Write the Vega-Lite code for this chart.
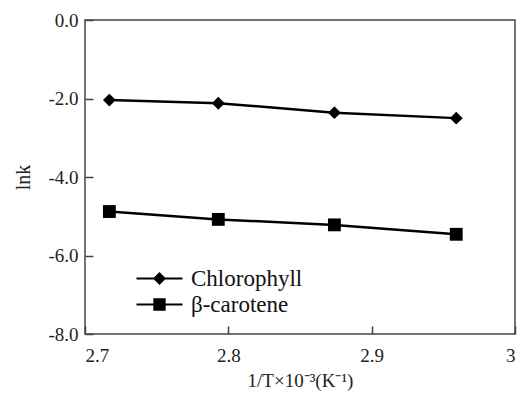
{
  "$schema": "https://vega.github.io/schema/vega-lite/v6.json",
  "width": 430,
  "height": 314,
  "autosize": "none",
  "padding": {"left": 85, "top": 20, "right": 7, "bottom": 68},
  "background": "white",
  "config": {
    "font": "Liberation Serif",
    "view": {"stroke": "#444", "strokeWidth": 1.5},
    "axis": {
      "grid": false,
      "domain": false,
      "tickColor": "#444",
      "tickWidth": 1.5,
      "tickSize": -8,
      "labelFont": "Liberation Serif",
      "labelFontSize": 19,
      "labelColor": "#222",
      "titleFont": "Liberation Serif",
      "titleFontWeight": "normal",
      "titleColor": "#222"
    }
  },
  "data": {
    "values": [
      {"x": 2.717, "y": -2.04, "series": "Chlorophyll"},
      {"x": 2.793, "y": -2.12, "series": "Chlorophyll"},
      {"x": 2.874, "y": -2.36, "series": "Chlorophyll"},
      {"x": 2.959, "y": -2.50, "series": "Chlorophyll"},
      {"x": 2.717, "y": -4.88, "series": "β-carotene"},
      {"x": 2.793, "y": -5.08, "series": "β-carotene"},
      {"x": 2.874, "y": -5.22, "series": "β-carotene"},
      {"x": 2.959, "y": -5.46, "series": "β-carotene"}
    ]
  },
  "encoding": {
    "x": {
      "field": "x",
      "type": "quantitative",
      "scale": {"domain": [2.7, 3.0], "nice": false, "zero": false},
      "axis": {
        "values": [2.7, 2.8, 2.9, 3.0],
        "labelExpr": "datum.value == 3 ? '3' : format(datum.value, '.1f')",
        "labelPadding": 20,
        "title": "1/T×10⁻³(K⁻¹)",
        "titleFontSize": 19,
        "titlePadding": 6
      }
    },
    "y": {
      "field": "y",
      "type": "quantitative",
      "scale": {"domain": [-8, 0], "nice": false, "zero": false},
      "axis": {
        "values": [-8, -6, -4, -2, 0],
        "labelExpr": "replace(format(datum.value, '.1f'), '\u2212', '-')",
        "labelPadding": 15,
        "title": "lnk",
        "titleFontSize": 20,
        "titlePadding": 14
      }
    }
  },
  "layer": [
    {
      "mark": {"type": "line", "color": "black", "strokeWidth": 2.5},
      "encoding": {"detail": {"field": "series"}}
    },
    {
      "mark": {"type": "point", "filled": true, "color": "black", "opacity": 1, "size": 165},
      "encoding": {
        "shape": {
          "field": "series",
          "type": "nominal",
          "scale": {"domain": ["Chlorophyll", "β-carotene"], "range": ["diamond", "square"]},
          "legend": null
        }
      }
    },
    {
      "mark": {"type": "point", "filled": true, "color": "black", "opacity": 0, "size": 165},
      "encoding": {
        "shape": {
          "field": "series",
          "type": "nominal",
          "scale": {
            "domain": ["Chlorophyll", "β-carotene"],
            "range": [
              "M-2.3,-0.1H2.3V0.1H-2.3Z M0,-0.65L0.65,0L0,0.65L-0.65,0Z",
              "M-2.3,-0.1H2.3V0.1H-2.3Z M-0.62,-0.62H0.62V0.62H-0.62Z"
            ]
          },
          "legend": {
            "title": null,
            "orient": "none",
            "legendX": 63,
            "legendY": 247,
            "symbolSize": 400,
            "symbolOpacity": 1,
            "symbolFillColor": "black",
            "symbolStrokeWidth": 0,
            "labelFont": "Liberation Serif",
            "labelFontSize": 23,
            "labelColor": "#111",
            "labelOffset": 20,
            "rowPadding": 2
          }
        }
      }
    }
  ],
  "resolve": {"scale": {"shape": "independent"}, "legend": {"shape": "independent"}}
}
